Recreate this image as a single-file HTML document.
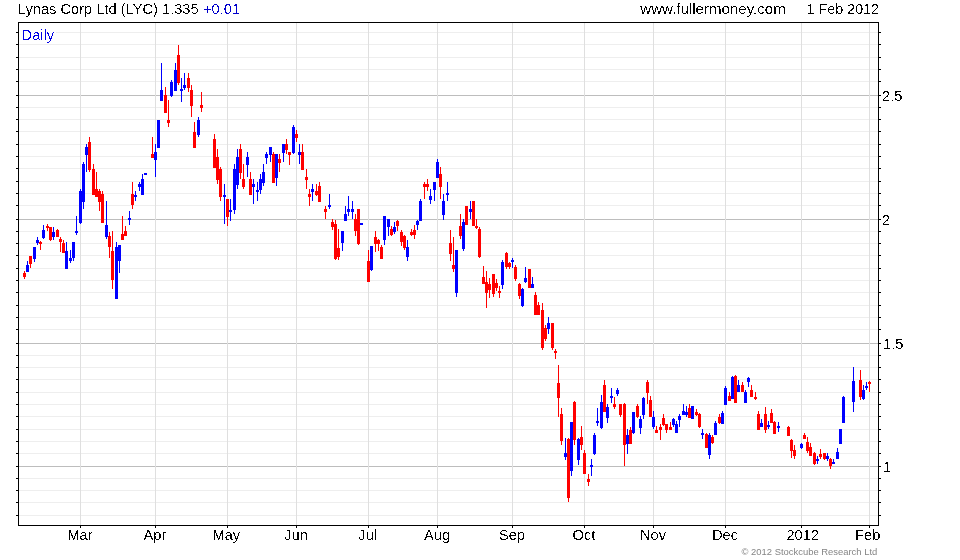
<!DOCTYPE html>
<html><head><meta charset="utf-8"><title>Lynas Corp Ltd (LYC)</title>
<style>
html,body{margin:0;padding:0;background:#fff;}
body{width:960px;height:560px;overflow:hidden;position:relative;font-family:"Liberation Sans",sans-serif;}
svg{position:absolute;left:0;top:0;display:block;}
text{font-family:"Liberation Sans",sans-serif;}
</style></head><body>
<svg width="960" height="560" viewBox="0 0 960 560">
<rect x="0" y="0" width="960" height="560" fill="#ffffff"/>
<defs><filter id="th" x="0" y="0" width="100%" height="100%" filterUnits="userSpaceOnUse" color-interpolation-filters="sRGB"><feComponentTransfer><feFuncA type="discrete" tableValues="0 0 0 0 0 0 0 0 0 0 0 1 1 1 1 1 1 1 1 1"/></feComponentTransfer></filter><filter id="idn" x="0" y="0" width="100%" height="100%" filterUnits="userSpaceOnUse"><feOffset dx="0" dy="0"/></filter></defs>
<g shape-rendering="crispEdges">
<rect x="19" y="32" width="859" height="1" fill="#eeeeee"/>
<rect x="16" y="32" width="2" height="1" fill="#000"/>
<rect x="879" y="32" width="2" height="1" fill="#000"/>
<rect x="19" y="44" width="859" height="1" fill="#eeeeee"/>
<rect x="16" y="44" width="2" height="1" fill="#000"/>
<rect x="879" y="44" width="2" height="1" fill="#000"/>
<rect x="19" y="57" width="859" height="1" fill="#eeeeee"/>
<rect x="16" y="57" width="2" height="1" fill="#000"/>
<rect x="879" y="57" width="2" height="1" fill="#000"/>
<rect x="19" y="69" width="859" height="1" fill="#eeeeee"/>
<rect x="16" y="69" width="2" height="1" fill="#000"/>
<rect x="879" y="69" width="2" height="1" fill="#000"/>
<rect x="19" y="81" width="859" height="1" fill="#eeeeee"/>
<rect x="16" y="81" width="2" height="1" fill="#000"/>
<rect x="879" y="81" width="2" height="1" fill="#000"/>
<rect x="19" y="95" width="859" height="1" fill="#bdbdbd"/>
<rect x="16" y="95" width="2" height="1" fill="#000"/>
<rect x="879" y="95" width="2" height="1" fill="#000"/>
<rect x="19" y="107" width="859" height="1" fill="#eeeeee"/>
<rect x="16" y="107" width="2" height="1" fill="#000"/>
<rect x="879" y="107" width="2" height="1" fill="#000"/>
<rect x="19" y="119" width="859" height="1" fill="#eeeeee"/>
<rect x="16" y="119" width="2" height="1" fill="#000"/>
<rect x="879" y="119" width="2" height="1" fill="#000"/>
<rect x="19" y="131" width="859" height="1" fill="#eeeeee"/>
<rect x="16" y="131" width="2" height="1" fill="#000"/>
<rect x="879" y="131" width="2" height="1" fill="#000"/>
<rect x="19" y="144" width="859" height="1" fill="#eeeeee"/>
<rect x="16" y="144" width="2" height="1" fill="#000"/>
<rect x="879" y="144" width="2" height="1" fill="#000"/>
<rect x="19" y="156" width="859" height="1" fill="#eeeeee"/>
<rect x="16" y="156" width="2" height="1" fill="#000"/>
<rect x="879" y="156" width="2" height="1" fill="#000"/>
<rect x="19" y="168" width="859" height="1" fill="#eeeeee"/>
<rect x="16" y="168" width="2" height="1" fill="#000"/>
<rect x="879" y="168" width="2" height="1" fill="#000"/>
<rect x="19" y="181" width="859" height="1" fill="#eeeeee"/>
<rect x="16" y="181" width="2" height="1" fill="#000"/>
<rect x="879" y="181" width="2" height="1" fill="#000"/>
<rect x="19" y="193" width="859" height="1" fill="#eeeeee"/>
<rect x="16" y="193" width="2" height="1" fill="#000"/>
<rect x="879" y="193" width="2" height="1" fill="#000"/>
<rect x="19" y="205" width="859" height="1" fill="#eeeeee"/>
<rect x="16" y="205" width="2" height="1" fill="#000"/>
<rect x="879" y="205" width="2" height="1" fill="#000"/>
<rect x="19" y="219" width="859" height="1" fill="#bdbdbd"/>
<rect x="16" y="219" width="2" height="1" fill="#000"/>
<rect x="879" y="219" width="2" height="1" fill="#000"/>
<rect x="19" y="231" width="859" height="1" fill="#eeeeee"/>
<rect x="16" y="231" width="2" height="1" fill="#000"/>
<rect x="879" y="231" width="2" height="1" fill="#000"/>
<rect x="19" y="243" width="859" height="1" fill="#eeeeee"/>
<rect x="16" y="243" width="2" height="1" fill="#000"/>
<rect x="879" y="243" width="2" height="1" fill="#000"/>
<rect x="19" y="255" width="859" height="1" fill="#eeeeee"/>
<rect x="16" y="255" width="2" height="1" fill="#000"/>
<rect x="879" y="255" width="2" height="1" fill="#000"/>
<rect x="19" y="268" width="859" height="1" fill="#eeeeee"/>
<rect x="16" y="268" width="2" height="1" fill="#000"/>
<rect x="879" y="268" width="2" height="1" fill="#000"/>
<rect x="19" y="280" width="859" height="1" fill="#eeeeee"/>
<rect x="16" y="280" width="2" height="1" fill="#000"/>
<rect x="879" y="280" width="2" height="1" fill="#000"/>
<rect x="19" y="292" width="859" height="1" fill="#eeeeee"/>
<rect x="16" y="292" width="2" height="1" fill="#000"/>
<rect x="879" y="292" width="2" height="1" fill="#000"/>
<rect x="19" y="305" width="859" height="1" fill="#eeeeee"/>
<rect x="16" y="305" width="2" height="1" fill="#000"/>
<rect x="879" y="305" width="2" height="1" fill="#000"/>
<rect x="19" y="317" width="859" height="1" fill="#eeeeee"/>
<rect x="16" y="317" width="2" height="1" fill="#000"/>
<rect x="879" y="317" width="2" height="1" fill="#000"/>
<rect x="19" y="329" width="859" height="1" fill="#eeeeee"/>
<rect x="16" y="329" width="2" height="1" fill="#000"/>
<rect x="879" y="329" width="2" height="1" fill="#000"/>
<rect x="19" y="343" width="859" height="1" fill="#bdbdbd"/>
<rect x="16" y="343" width="2" height="1" fill="#000"/>
<rect x="879" y="343" width="2" height="1" fill="#000"/>
<rect x="19" y="355" width="859" height="1" fill="#eeeeee"/>
<rect x="16" y="355" width="2" height="1" fill="#000"/>
<rect x="879" y="355" width="2" height="1" fill="#000"/>
<rect x="19" y="367" width="859" height="1" fill="#eeeeee"/>
<rect x="16" y="367" width="2" height="1" fill="#000"/>
<rect x="879" y="367" width="2" height="1" fill="#000"/>
<rect x="19" y="379" width="859" height="1" fill="#eeeeee"/>
<rect x="16" y="379" width="2" height="1" fill="#000"/>
<rect x="879" y="379" width="2" height="1" fill="#000"/>
<rect x="19" y="392" width="859" height="1" fill="#eeeeee"/>
<rect x="16" y="392" width="2" height="1" fill="#000"/>
<rect x="879" y="392" width="2" height="1" fill="#000"/>
<rect x="19" y="404" width="859" height="1" fill="#eeeeee"/>
<rect x="16" y="404" width="2" height="1" fill="#000"/>
<rect x="879" y="404" width="2" height="1" fill="#000"/>
<rect x="19" y="416" width="859" height="1" fill="#eeeeee"/>
<rect x="16" y="416" width="2" height="1" fill="#000"/>
<rect x="879" y="416" width="2" height="1" fill="#000"/>
<rect x="19" y="429" width="859" height="1" fill="#eeeeee"/>
<rect x="16" y="429" width="2" height="1" fill="#000"/>
<rect x="879" y="429" width="2" height="1" fill="#000"/>
<rect x="19" y="441" width="859" height="1" fill="#eeeeee"/>
<rect x="16" y="441" width="2" height="1" fill="#000"/>
<rect x="879" y="441" width="2" height="1" fill="#000"/>
<rect x="19" y="453" width="859" height="1" fill="#eeeeee"/>
<rect x="16" y="453" width="2" height="1" fill="#000"/>
<rect x="879" y="453" width="2" height="1" fill="#000"/>
<rect x="19" y="466" width="859" height="1" fill="#bdbdbd"/>
<rect x="16" y="466" width="2" height="1" fill="#000"/>
<rect x="879" y="466" width="2" height="1" fill="#000"/>
<rect x="19" y="478" width="859" height="1" fill="#eeeeee"/>
<rect x="16" y="478" width="2" height="1" fill="#000"/>
<rect x="879" y="478" width="2" height="1" fill="#000"/>
<rect x="19" y="490" width="859" height="1" fill="#eeeeee"/>
<rect x="16" y="490" width="2" height="1" fill="#000"/>
<rect x="879" y="490" width="2" height="1" fill="#000"/>
<rect x="19" y="502" width="859" height="1" fill="#eeeeee"/>
<rect x="16" y="502" width="2" height="1" fill="#000"/>
<rect x="879" y="502" width="2" height="1" fill="#000"/>
<rect x="19" y="515" width="859" height="1" fill="#eeeeee"/>
<rect x="16" y="515" width="2" height="1" fill="#000"/>
<rect x="879" y="515" width="2" height="1" fill="#000"/>
<rect x="80" y="23" width="1" height="502" fill="#dfdfdf"/>
<rect x="80" y="526" width="1" height="2" fill="#000"/>
<rect x="155" y="23" width="1" height="502" fill="#dfdfdf"/>
<rect x="155" y="526" width="1" height="2" fill="#000"/>
<rect x="227" y="23" width="1" height="502" fill="#dfdfdf"/>
<rect x="227" y="526" width="1" height="2" fill="#000"/>
<rect x="296" y="23" width="1" height="502" fill="#dfdfdf"/>
<rect x="296" y="526" width="1" height="2" fill="#000"/>
<rect x="368" y="23" width="1" height="502" fill="#dfdfdf"/>
<rect x="368" y="526" width="1" height="2" fill="#000"/>
<rect x="437" y="23" width="1" height="502" fill="#dfdfdf"/>
<rect x="437" y="526" width="1" height="2" fill="#000"/>
<rect x="512" y="23" width="1" height="502" fill="#dfdfdf"/>
<rect x="512" y="526" width="1" height="2" fill="#000"/>
<rect x="584" y="23" width="1" height="502" fill="#dfdfdf"/>
<rect x="584" y="526" width="1" height="2" fill="#000"/>
<rect x="653" y="23" width="1" height="502" fill="#dfdfdf"/>
<rect x="653" y="526" width="1" height="2" fill="#000"/>
<rect x="725" y="23" width="1" height="502" fill="#dfdfdf"/>
<rect x="725" y="526" width="1" height="2" fill="#000"/>
<rect x="801" y="23" width="1" height="502" fill="#dfdfdf"/>
<rect x="801" y="526" width="1" height="2" fill="#000"/>
<rect x="869" y="23" width="1" height="502" fill="#dfdfdf"/>
<rect x="869" y="526" width="1" height="2" fill="#000"/>
</g>
<g shape-rendering="crispEdges">
<rect x="24" y="271" width="1" height="8" fill="#ff0000"/>
<rect x="23" y="273" width="3" height="4" fill="#ff0000"/>
<rect x="27" y="261" width="1" height="11" fill="#0000ff"/>
<rect x="26" y="265" width="3" height="7" fill="#0000ff"/>
<rect x="30" y="256" width="1" height="12" fill="#ff0000"/>
<rect x="29" y="256" width="3" height="8" fill="#ff0000"/>
<rect x="34" y="247" width="1" height="15" fill="#0000ff"/>
<rect x="33" y="247" width="3" height="12" fill="#0000ff"/>
<rect x="37" y="237" width="1" height="8" fill="#0000ff"/>
<rect x="36" y="240" width="3" height="3" fill="#0000ff"/>
<rect x="40" y="241" width="1" height="9" fill="#ff0000"/>
<rect x="39" y="242" width="3" height="2" fill="#ff0000"/>
<rect x="43" y="225" width="1" height="14" fill="#0000ff"/>
<rect x="42" y="230" width="3" height="8" fill="#0000ff"/>
<rect x="47" y="224" width="1" height="7" fill="#ff0000"/>
<rect x="46" y="226" width="3" height="2" fill="#ff0000"/>
<rect x="50" y="227" width="1" height="14" fill="#ff0000"/>
<rect x="49" y="227" width="3" height="13" fill="#ff0000"/>
<rect x="53" y="227" width="1" height="13" fill="#0000ff"/>
<rect x="52" y="232" width="3" height="5" fill="#0000ff"/>
<rect x="57" y="229" width="1" height="8" fill="#ff0000"/>
<rect x="56" y="230" width="3" height="7" fill="#ff0000"/>
<rect x="60" y="237" width="1" height="15" fill="#ff0000"/>
<rect x="59" y="239" width="3" height="3" fill="#ff0000"/>
<rect x="63" y="240" width="1" height="13" fill="#ff0000"/>
<rect x="62" y="243" width="3" height="10" fill="#ff0000"/>
<rect x="66" y="242" width="1" height="27" fill="#0000ff"/>
<rect x="65" y="251" width="3" height="18" fill="#0000ff"/>
<rect x="70" y="250" width="1" height="13" fill="#0000ff"/>
<rect x="69" y="258" width="3" height="3" fill="#0000ff"/>
<rect x="73" y="242" width="1" height="19" fill="#0000ff"/>
<rect x="72" y="242" width="3" height="16" fill="#0000ff"/>
<rect x="76" y="216" width="1" height="19" fill="#0000ff"/>
<rect x="75" y="231" width="3" height="2" fill="#0000ff"/>
<rect x="80" y="189" width="1" height="35" fill="#0000ff"/>
<rect x="79" y="191" width="3" height="32" fill="#0000ff"/>
<rect x="83" y="162" width="1" height="47" fill="#0000ff"/>
<rect x="82" y="164" width="3" height="38" fill="#0000ff"/>
<rect x="86" y="144" width="1" height="28" fill="#0000ff"/>
<rect x="85" y="147" width="3" height="8" fill="#0000ff"/>
<rect x="89" y="137" width="1" height="35" fill="#ff0000"/>
<rect x="88" y="142" width="3" height="28" fill="#ff0000"/>
<rect x="93" y="164" width="1" height="31" fill="#ff0000"/>
<rect x="92" y="169" width="3" height="26" fill="#ff0000"/>
<rect x="96" y="172" width="1" height="25" fill="#ff0000"/>
<rect x="95" y="189" width="3" height="8" fill="#ff0000"/>
<rect x="99" y="189" width="1" height="22" fill="#ff0000"/>
<rect x="98" y="191" width="3" height="11" fill="#ff0000"/>
<rect x="102" y="191" width="1" height="32" fill="#ff0000"/>
<rect x="101" y="194" width="3" height="29" fill="#ff0000"/>
<rect x="106" y="201" width="1" height="38" fill="#0000ff"/>
<rect x="105" y="225" width="3" height="12" fill="#0000ff"/>
<rect x="109" y="232" width="1" height="26" fill="#ff0000"/>
<rect x="108" y="236" width="3" height="11" fill="#ff0000"/>
<rect x="112" y="231" width="1" height="58" fill="#ff0000"/>
<rect x="111" y="251" width="3" height="29" fill="#ff0000"/>
<rect x="116" y="242" width="1" height="57" fill="#0000ff"/>
<rect x="115" y="247" width="3" height="52" fill="#0000ff"/>
<rect x="119" y="245" width="1" height="28" fill="#0000ff"/>
<rect x="118" y="245" width="3" height="16" fill="#0000ff"/>
<rect x="122" y="216" width="1" height="24" fill="#ff0000"/>
<rect x="121" y="234" width="3" height="6" fill="#ff0000"/>
<rect x="125" y="226" width="1" height="10" fill="#ff0000"/>
<rect x="124" y="231" width="3" height="5" fill="#ff0000"/>
<rect x="129" y="211" width="1" height="14" fill="#0000ff"/>
<rect x="128" y="218" width="3" height="2" fill="#0000ff"/>
<rect x="132" y="182" width="1" height="27" fill="#ff0000"/>
<rect x="131" y="194" width="3" height="11" fill="#ff0000"/>
<rect x="135" y="191" width="1" height="10" fill="#0000ff"/>
<rect x="134" y="195" width="3" height="2" fill="#0000ff"/>
<rect x="139" y="182" width="1" height="9" fill="#0000ff"/>
<rect x="138" y="184" width="3" height="3" fill="#0000ff"/>
<rect x="142" y="174" width="1" height="21" fill="#0000ff"/>
<rect x="141" y="179" width="3" height="16" fill="#0000ff"/>
<rect x="144" y="173" width="3" height="2" fill="#0000ff"/>
<rect x="152" y="137" width="1" height="21" fill="#ff0000"/>
<rect x="151" y="154" width="3" height="4" fill="#ff0000"/>
<rect x="155" y="144" width="1" height="33" fill="#0000ff"/>
<rect x="154" y="152" width="3" height="8" fill="#0000ff"/>
<rect x="157" y="120" width="3" height="28" fill="#0000ff"/>
<rect x="161" y="63" width="1" height="38" fill="#0000ff"/>
<rect x="160" y="90" width="3" height="11" fill="#0000ff"/>
<rect x="165" y="87" width="1" height="26" fill="#ff0000"/>
<rect x="164" y="95" width="3" height="18" fill="#ff0000"/>
<rect x="168" y="100" width="1" height="27" fill="#ff0000"/>
<rect x="167" y="120" width="3" height="3" fill="#ff0000"/>
<rect x="171" y="80" width="1" height="17" fill="#0000ff"/>
<rect x="170" y="82" width="3" height="14" fill="#0000ff"/>
<rect x="175" y="63" width="1" height="28" fill="#0000ff"/>
<rect x="174" y="70" width="3" height="21" fill="#0000ff"/>
<rect x="178" y="45" width="1" height="40" fill="#ff0000"/>
<rect x="177" y="55" width="3" height="28" fill="#ff0000"/>
<rect x="181" y="78" width="1" height="24" fill="#0000ff"/>
<rect x="180" y="89" width="3" height="2" fill="#0000ff"/>
<rect x="184" y="73" width="1" height="17" fill="#0000ff"/>
<rect x="183" y="85" width="3" height="3" fill="#0000ff"/>
<rect x="188" y="73" width="1" height="19" fill="#ff0000"/>
<rect x="187" y="78" width="3" height="10" fill="#ff0000"/>
<rect x="191" y="85" width="1" height="32" fill="#ff0000"/>
<rect x="190" y="90" width="3" height="16" fill="#ff0000"/>
<rect x="194" y="122" width="1" height="26" fill="#ff0000"/>
<rect x="193" y="132" width="3" height="16" fill="#ff0000"/>
<rect x="198" y="117" width="1" height="20" fill="#0000ff"/>
<rect x="197" y="120" width="3" height="15" fill="#0000ff"/>
<rect x="201" y="92" width="1" height="20" fill="#ff0000"/>
<rect x="200" y="105" width="3" height="3" fill="#ff0000"/>
<rect x="214" y="134" width="1" height="34" fill="#ff0000"/>
<rect x="213" y="139" width="3" height="29" fill="#ff0000"/>
<rect x="217" y="149" width="1" height="35" fill="#ff0000"/>
<rect x="216" y="157" width="3" height="23" fill="#ff0000"/>
<rect x="220" y="167" width="1" height="34" fill="#ff0000"/>
<rect x="219" y="169" width="3" height="28" fill="#ff0000"/>
<rect x="224" y="184" width="1" height="40" fill="#0000ff"/>
<rect x="223" y="195" width="3" height="2" fill="#0000ff"/>
<rect x="227" y="199" width="1" height="27" fill="#ff0000"/>
<rect x="226" y="199" width="3" height="18" fill="#ff0000"/>
<rect x="230" y="199" width="1" height="22" fill="#0000ff"/>
<rect x="229" y="210" width="3" height="2" fill="#0000ff"/>
<rect x="234" y="164" width="1" height="50" fill="#0000ff"/>
<rect x="233" y="169" width="3" height="41" fill="#0000ff"/>
<rect x="237" y="149" width="1" height="40" fill="#0000ff"/>
<rect x="236" y="157" width="3" height="28" fill="#0000ff"/>
<rect x="240" y="144" width="1" height="35" fill="#ff0000"/>
<rect x="239" y="149" width="3" height="24" fill="#ff0000"/>
<rect x="243" y="164" width="1" height="25" fill="#ff0000"/>
<rect x="242" y="179" width="3" height="8" fill="#ff0000"/>
<rect x="247" y="152" width="1" height="25" fill="#0000ff"/>
<rect x="246" y="157" width="3" height="8" fill="#0000ff"/>
<rect x="250" y="172" width="1" height="23" fill="#ff0000"/>
<rect x="249" y="179" width="3" height="16" fill="#ff0000"/>
<rect x="253" y="179" width="1" height="25" fill="#0000ff"/>
<rect x="252" y="184" width="3" height="3" fill="#0000ff"/>
<rect x="257" y="182" width="1" height="19" fill="#0000ff"/>
<rect x="256" y="190" width="3" height="2" fill="#0000ff"/>
<rect x="260" y="174" width="1" height="20" fill="#0000ff"/>
<rect x="259" y="179" width="3" height="11" fill="#0000ff"/>
<rect x="263" y="164" width="1" height="22" fill="#0000ff"/>
<rect x="262" y="172" width="3" height="11" fill="#0000ff"/>
<rect x="266" y="152" width="1" height="12" fill="#0000ff"/>
<rect x="265" y="154" width="3" height="4" fill="#0000ff"/>
<rect x="270" y="147" width="1" height="15" fill="#0000ff"/>
<rect x="269" y="147" width="3" height="8" fill="#0000ff"/>
<rect x="273" y="152" width="1" height="31" fill="#ff0000"/>
<rect x="272" y="154" width="3" height="29" fill="#ff0000"/>
<rect x="276" y="154" width="1" height="32" fill="#0000ff"/>
<rect x="275" y="154" width="3" height="24" fill="#0000ff"/>
<rect x="279" y="154" width="1" height="18" fill="#ff0000"/>
<rect x="278" y="159" width="3" height="4" fill="#ff0000"/>
<rect x="283" y="144" width="1" height="18" fill="#0000ff"/>
<rect x="282" y="144" width="3" height="9" fill="#0000ff"/>
<rect x="286" y="139" width="1" height="15" fill="#ff0000"/>
<rect x="285" y="144" width="3" height="6" fill="#ff0000"/>
<rect x="289" y="152" width="1" height="13" fill="#ff0000"/>
<rect x="288" y="152" width="3" height="3" fill="#ff0000"/>
<rect x="293" y="125" width="1" height="29" fill="#0000ff"/>
<rect x="292" y="127" width="3" height="26" fill="#0000ff"/>
<rect x="296" y="130" width="1" height="12" fill="#ff0000"/>
<rect x="295" y="134" width="3" height="4" fill="#ff0000"/>
<rect x="299" y="144" width="1" height="20" fill="#0000ff"/>
<rect x="298" y="152" width="3" height="3" fill="#0000ff"/>
<rect x="302" y="144" width="1" height="26" fill="#ff0000"/>
<rect x="301" y="152" width="3" height="18" fill="#ff0000"/>
<rect x="306" y="169" width="1" height="20" fill="#ff0000"/>
<rect x="305" y="177" width="3" height="3" fill="#ff0000"/>
<rect x="309" y="189" width="1" height="17" fill="#ff0000"/>
<rect x="308" y="194" width="3" height="3" fill="#ff0000"/>
<rect x="312" y="184" width="1" height="17" fill="#0000ff"/>
<rect x="311" y="189" width="3" height="3" fill="#0000ff"/>
<rect x="316" y="184" width="1" height="12" fill="#ff0000"/>
<rect x="315" y="191" width="3" height="4" fill="#ff0000"/>
<rect x="319" y="182" width="1" height="20" fill="#ff0000"/>
<rect x="318" y="186" width="3" height="16" fill="#ff0000"/>
<rect x="325" y="206" width="1" height="13" fill="#ff0000"/>
<rect x="324" y="209" width="3" height="3" fill="#ff0000"/>
<rect x="329" y="194" width="1" height="15" fill="#0000ff"/>
<rect x="328" y="205" width="3" height="2" fill="#0000ff"/>
<rect x="332" y="219" width="1" height="11" fill="#ff0000"/>
<rect x="331" y="222" width="3" height="5" fill="#ff0000"/>
<rect x="335" y="220" width="1" height="40" fill="#ff0000"/>
<rect x="334" y="224" width="3" height="35" fill="#ff0000"/>
<rect x="338" y="229" width="1" height="31" fill="#ff0000"/>
<rect x="337" y="248" width="3" height="9" fill="#ff0000"/>
<rect x="342" y="231" width="1" height="20" fill="#0000ff"/>
<rect x="341" y="231" width="3" height="12" fill="#0000ff"/>
<rect x="345" y="206" width="1" height="15" fill="#0000ff"/>
<rect x="344" y="214" width="3" height="7" fill="#0000ff"/>
<rect x="348" y="196" width="1" height="20" fill="#0000ff"/>
<rect x="347" y="209" width="3" height="3" fill="#0000ff"/>
<rect x="352" y="201" width="1" height="18" fill="#0000ff"/>
<rect x="351" y="209" width="3" height="3" fill="#0000ff"/>
<rect x="355" y="214" width="1" height="22" fill="#ff0000"/>
<rect x="354" y="219" width="3" height="12" fill="#ff0000"/>
<rect x="358" y="209" width="1" height="36" fill="#ff0000"/>
<rect x="357" y="209" width="3" height="35" fill="#ff0000"/>
<rect x="360" y="223" width="3" height="2" fill="#0000ff"/>
<rect x="368" y="250" width="1" height="32" fill="#ff0000"/>
<rect x="367" y="261" width="3" height="21" fill="#ff0000"/>
<rect x="371" y="246" width="1" height="25" fill="#0000ff"/>
<rect x="370" y="246" width="3" height="24" fill="#0000ff"/>
<rect x="375" y="231" width="1" height="21" fill="#ff0000"/>
<rect x="374" y="237" width="3" height="7" fill="#ff0000"/>
<rect x="378" y="239" width="1" height="12" fill="#ff0000"/>
<rect x="377" y="240" width="3" height="4" fill="#ff0000"/>
<rect x="381" y="245" width="1" height="14" fill="#ff0000"/>
<rect x="380" y="247" width="3" height="12" fill="#ff0000"/>
<rect x="384" y="216" width="1" height="29" fill="#0000ff"/>
<rect x="383" y="216" width="3" height="24" fill="#0000ff"/>
<rect x="388" y="219" width="1" height="17" fill="#0000ff"/>
<rect x="387" y="219" width="3" height="8" fill="#0000ff"/>
<rect x="391" y="226" width="1" height="10" fill="#ff0000"/>
<rect x="390" y="229" width="3" height="6" fill="#ff0000"/>
<rect x="394" y="222" width="1" height="12" fill="#0000ff"/>
<rect x="393" y="227" width="3" height="5" fill="#0000ff"/>
<rect x="397" y="220" width="1" height="11" fill="#ff0000"/>
<rect x="396" y="221" width="3" height="5" fill="#ff0000"/>
<rect x="401" y="230" width="1" height="16" fill="#ff0000"/>
<rect x="400" y="232" width="3" height="10" fill="#ff0000"/>
<rect x="404" y="235" width="1" height="15" fill="#ff0000"/>
<rect x="403" y="236" width="3" height="12" fill="#ff0000"/>
<rect x="407" y="240" width="1" height="21" fill="#0000ff"/>
<rect x="406" y="247" width="3" height="10" fill="#0000ff"/>
<rect x="411" y="229" width="1" height="7" fill="#ff0000"/>
<rect x="410" y="232" width="3" height="3" fill="#ff0000"/>
<rect x="414" y="225" width="1" height="14" fill="#ff0000"/>
<rect x="413" y="230" width="3" height="5" fill="#ff0000"/>
<rect x="417" y="220" width="1" height="10" fill="#0000ff"/>
<rect x="416" y="221" width="3" height="4" fill="#0000ff"/>
<rect x="420" y="199" width="1" height="22" fill="#0000ff"/>
<rect x="419" y="201" width="3" height="20" fill="#0000ff"/>
<rect x="424" y="182" width="1" height="17" fill="#ff0000"/>
<rect x="423" y="184" width="3" height="3" fill="#ff0000"/>
<rect x="427" y="179" width="1" height="12" fill="#ff0000"/>
<rect x="426" y="184" width="3" height="3" fill="#ff0000"/>
<rect x="430" y="189" width="1" height="15" fill="#0000ff"/>
<rect x="429" y="196" width="3" height="4" fill="#0000ff"/>
<rect x="434" y="182" width="1" height="19" fill="#0000ff"/>
<rect x="433" y="182" width="3" height="8" fill="#0000ff"/>
<rect x="437" y="159" width="1" height="19" fill="#0000ff"/>
<rect x="436" y="162" width="3" height="16" fill="#0000ff"/>
<rect x="440" y="167" width="1" height="32" fill="#ff0000"/>
<rect x="439" y="174" width="3" height="13" fill="#ff0000"/>
<rect x="443" y="194" width="1" height="26" fill="#0000ff"/>
<rect x="442" y="201" width="3" height="14" fill="#0000ff"/>
<rect x="447" y="182" width="1" height="19" fill="#0000ff"/>
<rect x="446" y="193" width="3" height="2" fill="#0000ff"/>
<rect x="450" y="230" width="1" height="31" fill="#ff0000"/>
<rect x="449" y="243" width="3" height="11" fill="#ff0000"/>
<rect x="453" y="237" width="1" height="35" fill="#ff0000"/>
<rect x="452" y="265" width="3" height="4" fill="#ff0000"/>
<rect x="456" y="250" width="1" height="47" fill="#0000ff"/>
<rect x="455" y="250" width="3" height="43" fill="#0000ff"/>
<rect x="460" y="214" width="1" height="25" fill="#ff0000"/>
<rect x="459" y="226" width="3" height="10" fill="#ff0000"/>
<rect x="463" y="219" width="1" height="32" fill="#0000ff"/>
<rect x="462" y="222" width="3" height="27" fill="#0000ff"/>
<rect x="465" y="206" width="3" height="19" fill="#ff0000"/>
<rect x="470" y="201" width="1" height="18" fill="#0000ff"/>
<rect x="469" y="209" width="3" height="3" fill="#0000ff"/>
<rect x="472" y="201" width="3" height="25" fill="#ff0000"/>
<rect x="476" y="219" width="1" height="10" fill="#ff0000"/>
<rect x="475" y="226" width="3" height="2" fill="#ff0000"/>
<rect x="479" y="227" width="1" height="31" fill="#ff0000"/>
<rect x="478" y="229" width="3" height="28" fill="#ff0000"/>
<rect x="483" y="266" width="1" height="18" fill="#ff0000"/>
<rect x="482" y="277" width="3" height="7" fill="#ff0000"/>
<rect x="486" y="271" width="1" height="37" fill="#ff0000"/>
<rect x="485" y="282" width="3" height="11" fill="#ff0000"/>
<rect x="489" y="278" width="1" height="20" fill="#ff0000"/>
<rect x="488" y="284" width="3" height="6" fill="#ff0000"/>
<rect x="493" y="274" width="1" height="23" fill="#ff0000"/>
<rect x="492" y="274" width="3" height="20" fill="#ff0000"/>
<rect x="496" y="279" width="1" height="12" fill="#ff0000"/>
<rect x="495" y="283" width="3" height="5" fill="#ff0000"/>
<rect x="499" y="286" width="1" height="12" fill="#ff0000"/>
<rect x="498" y="291" width="3" height="2" fill="#ff0000"/>
<rect x="502" y="260" width="1" height="29" fill="#0000ff"/>
<rect x="501" y="262" width="3" height="23" fill="#0000ff"/>
<rect x="506" y="252" width="1" height="17" fill="#ff0000"/>
<rect x="505" y="253" width="3" height="14" fill="#ff0000"/>
<rect x="509" y="262" width="1" height="7" fill="#ff0000"/>
<rect x="508" y="263" width="3" height="4" fill="#ff0000"/>
<rect x="512" y="258" width="1" height="10" fill="#0000ff"/>
<rect x="511" y="260" width="3" height="2" fill="#0000ff"/>
<rect x="515" y="265" width="1" height="16" fill="#ff0000"/>
<rect x="514" y="267" width="3" height="12" fill="#ff0000"/>
<rect x="519" y="283" width="1" height="16" fill="#ff0000"/>
<rect x="518" y="284" width="3" height="12" fill="#ff0000"/>
<rect x="522" y="288" width="1" height="19" fill="#0000ff"/>
<rect x="521" y="289" width="3" height="17" fill="#0000ff"/>
<rect x="525" y="267" width="1" height="16" fill="#0000ff"/>
<rect x="524" y="278" width="3" height="4" fill="#0000ff"/>
<rect x="528" y="269" width="3" height="19" fill="#ff0000"/>
<rect x="532" y="277" width="1" height="11" fill="#0000ff"/>
<rect x="531" y="284" width="3" height="4" fill="#0000ff"/>
<rect x="535" y="292" width="1" height="23" fill="#ff0000"/>
<rect x="534" y="295" width="3" height="20" fill="#ff0000"/>
<rect x="538" y="302" width="1" height="13" fill="#ff0000"/>
<rect x="537" y="305" width="3" height="10" fill="#ff0000"/>
<rect x="542" y="303" width="1" height="47" fill="#ff0000"/>
<rect x="541" y="310" width="3" height="38" fill="#ff0000"/>
<rect x="545" y="325" width="1" height="16" fill="#ff0000"/>
<rect x="544" y="328" width="3" height="11" fill="#ff0000"/>
<rect x="548" y="317" width="1" height="17" fill="#0000ff"/>
<rect x="547" y="323" width="3" height="6" fill="#0000ff"/>
<rect x="552" y="323" width="1" height="27" fill="#ff0000"/>
<rect x="551" y="323" width="3" height="25" fill="#ff0000"/>
<rect x="555" y="349" width="1" height="10" fill="#ff0000"/>
<rect x="554" y="351" width="3" height="2" fill="#ff0000"/>
<rect x="558" y="365" width="1" height="52" fill="#ff0000"/>
<rect x="557" y="383" width="3" height="15" fill="#ff0000"/>
<rect x="561" y="408" width="1" height="37" fill="#ff0000"/>
<rect x="560" y="414" width="3" height="27" fill="#ff0000"/>
<rect x="565" y="438" width="1" height="22" fill="#0000ff"/>
<rect x="564" y="453" width="3" height="4" fill="#0000ff"/>
<rect x="568" y="438" width="1" height="64" fill="#ff0000"/>
<rect x="567" y="439" width="3" height="59" fill="#ff0000"/>
<rect x="571" y="422" width="1" height="54" fill="#0000ff"/>
<rect x="570" y="422" width="3" height="49" fill="#0000ff"/>
<rect x="574" y="401" width="1" height="44" fill="#ff0000"/>
<rect x="573" y="402" width="3" height="38" fill="#ff0000"/>
<rect x="578" y="438" width="1" height="27" fill="#0000ff"/>
<rect x="577" y="439" width="3" height="21" fill="#0000ff"/>
<rect x="581" y="426" width="1" height="24" fill="#ff0000"/>
<rect x="580" y="437" width="3" height="8" fill="#ff0000"/>
<rect x="584" y="450" width="1" height="24" fill="#ff0000"/>
<rect x="583" y="453" width="3" height="21" fill="#ff0000"/>
<rect x="588" y="474" width="1" height="12" fill="#ff0000"/>
<rect x="587" y="479" width="3" height="3" fill="#ff0000"/>
<rect x="591" y="459" width="1" height="17" fill="#0000ff"/>
<rect x="590" y="465" width="3" height="2" fill="#0000ff"/>
<rect x="594" y="433" width="1" height="22" fill="#0000ff"/>
<rect x="593" y="435" width="3" height="19" fill="#0000ff"/>
<rect x="597" y="408" width="1" height="18" fill="#0000ff"/>
<rect x="596" y="421" width="3" height="2" fill="#0000ff"/>
<rect x="601" y="395" width="1" height="34" fill="#0000ff"/>
<rect x="600" y="402" width="3" height="26" fill="#0000ff"/>
<rect x="604" y="380" width="1" height="32" fill="#ff0000"/>
<rect x="603" y="385" width="3" height="27" fill="#ff0000"/>
<rect x="607" y="404" width="1" height="19" fill="#0000ff"/>
<rect x="606" y="407" width="3" height="11" fill="#0000ff"/>
<rect x="611" y="388" width="1" height="15" fill="#0000ff"/>
<rect x="610" y="396" width="3" height="2" fill="#0000ff"/>
<rect x="614" y="397" width="1" height="12" fill="#ff0000"/>
<rect x="613" y="404" width="3" height="3" fill="#ff0000"/>
<rect x="617" y="388" width="1" height="8" fill="#0000ff"/>
<rect x="616" y="390" width="3" height="4" fill="#0000ff"/>
<rect x="620" y="404" width="1" height="13" fill="#ff0000"/>
<rect x="619" y="404" width="3" height="11" fill="#ff0000"/>
<rect x="624" y="403" width="1" height="63" fill="#ff0000"/>
<rect x="623" y="404" width="3" height="41" fill="#ff0000"/>
<rect x="627" y="429" width="1" height="25" fill="#0000ff"/>
<rect x="626" y="435" width="3" height="9" fill="#0000ff"/>
<rect x="630" y="427" width="1" height="17" fill="#ff0000"/>
<rect x="629" y="430" width="3" height="14" fill="#ff0000"/>
<rect x="633" y="412" width="1" height="22" fill="#0000ff"/>
<rect x="632" y="412" width="3" height="21" fill="#0000ff"/>
<rect x="637" y="404" width="1" height="14" fill="#ff0000"/>
<rect x="636" y="406" width="3" height="11" fill="#ff0000"/>
<rect x="640" y="416" width="1" height="18" fill="#0000ff"/>
<rect x="639" y="419" width="3" height="9" fill="#0000ff"/>
<rect x="643" y="397" width="1" height="22" fill="#0000ff"/>
<rect x="642" y="398" width="3" height="17" fill="#0000ff"/>
<rect x="647" y="380" width="1" height="24" fill="#ff0000"/>
<rect x="646" y="382" width="3" height="11" fill="#ff0000"/>
<rect x="650" y="396" width="1" height="21" fill="#ff0000"/>
<rect x="649" y="400" width="3" height="17" fill="#ff0000"/>
<rect x="653" y="411" width="1" height="18" fill="#0000ff"/>
<rect x="652" y="417" width="3" height="10" fill="#0000ff"/>
<rect x="656" y="426" width="1" height="7" fill="#ff0000"/>
<rect x="655" y="430" width="3" height="3" fill="#ff0000"/>
<rect x="660" y="424" width="1" height="16" fill="#ff0000"/>
<rect x="659" y="427" width="3" height="3" fill="#ff0000"/>
<rect x="663" y="414" width="1" height="12" fill="#ff0000"/>
<rect x="662" y="418" width="3" height="7" fill="#ff0000"/>
<rect x="666" y="424" width="1" height="9" fill="#ff0000"/>
<rect x="665" y="424" width="3" height="6" fill="#ff0000"/>
<rect x="670" y="422" width="1" height="8" fill="#ff0000"/>
<rect x="669" y="427" width="3" height="3" fill="#ff0000"/>
<rect x="673" y="418" width="1" height="9" fill="#0000ff"/>
<rect x="672" y="419" width="3" height="6" fill="#0000ff"/>
<rect x="676" y="421" width="1" height="12" fill="#0000ff"/>
<rect x="675" y="424" width="3" height="9" fill="#0000ff"/>
<rect x="679" y="414" width="1" height="13" fill="#0000ff"/>
<rect x="678" y="416" width="3" height="4" fill="#0000ff"/>
<rect x="683" y="404" width="1" height="11" fill="#0000ff"/>
<rect x="682" y="411" width="3" height="4" fill="#0000ff"/>
<rect x="686" y="406" width="1" height="11" fill="#0000ff"/>
<rect x="685" y="412" width="3" height="3" fill="#0000ff"/>
<rect x="689" y="404" width="1" height="14" fill="#ff0000"/>
<rect x="688" y="408" width="3" height="10" fill="#ff0000"/>
<rect x="691" y="406" width="3" height="13" fill="#0000ff"/>
<rect x="696" y="409" width="1" height="7" fill="#ff0000"/>
<rect x="695" y="412" width="3" height="3" fill="#ff0000"/>
<rect x="699" y="413" width="1" height="15" fill="#ff0000"/>
<rect x="698" y="414" width="3" height="13" fill="#ff0000"/>
<rect x="702" y="429" width="1" height="10" fill="#0000ff"/>
<rect x="701" y="433" width="3" height="2" fill="#0000ff"/>
<rect x="706" y="433" width="1" height="15" fill="#ff0000"/>
<rect x="705" y="434" width="3" height="14" fill="#ff0000"/>
<rect x="709" y="433" width="1" height="26" fill="#0000ff"/>
<rect x="708" y="435" width="3" height="20" fill="#0000ff"/>
<rect x="712" y="435" width="1" height="9" fill="#ff0000"/>
<rect x="711" y="437" width="3" height="6" fill="#ff0000"/>
<rect x="715" y="421" width="1" height="14" fill="#0000ff"/>
<rect x="714" y="423" width="3" height="12" fill="#0000ff"/>
<rect x="719" y="414" width="1" height="10" fill="#ff0000"/>
<rect x="718" y="417" width="3" height="6" fill="#ff0000"/>
<rect x="722" y="411" width="1" height="13" fill="#0000ff"/>
<rect x="721" y="413" width="3" height="11" fill="#0000ff"/>
<rect x="725" y="386" width="1" height="19" fill="#0000ff"/>
<rect x="724" y="388" width="3" height="17" fill="#0000ff"/>
<rect x="729" y="392" width="1" height="9" fill="#ff0000"/>
<rect x="728" y="396" width="3" height="5" fill="#ff0000"/>
<rect x="732" y="376" width="1" height="23" fill="#0000ff"/>
<rect x="731" y="377" width="3" height="22" fill="#0000ff"/>
<rect x="735" y="375" width="1" height="28" fill="#ff0000"/>
<rect x="734" y="376" width="3" height="27" fill="#ff0000"/>
<rect x="738" y="380" width="1" height="12" fill="#0000ff"/>
<rect x="737" y="385" width="3" height="7" fill="#0000ff"/>
<rect x="742" y="382" width="1" height="10" fill="#ff0000"/>
<rect x="741" y="385" width="3" height="7" fill="#ff0000"/>
<rect x="745" y="390" width="1" height="13" fill="#0000ff"/>
<rect x="744" y="392" width="3" height="11" fill="#0000ff"/>
<rect x="748" y="377" width="1" height="10" fill="#0000ff"/>
<rect x="747" y="378" width="3" height="4" fill="#0000ff"/>
<rect x="751" y="385" width="1" height="12" fill="#ff0000"/>
<rect x="750" y="390" width="3" height="7" fill="#ff0000"/>
<rect x="755" y="392" width="1" height="8" fill="#ff0000"/>
<rect x="754" y="397" width="3" height="2" fill="#ff0000"/>
<rect x="758" y="411" width="1" height="19" fill="#ff0000"/>
<rect x="757" y="414" width="3" height="16" fill="#ff0000"/>
<rect x="761" y="419" width="1" height="8" fill="#0000ff"/>
<rect x="760" y="423" width="3" height="4" fill="#0000ff"/>
<rect x="765" y="407" width="1" height="26" fill="#ff0000"/>
<rect x="764" y="414" width="3" height="16" fill="#ff0000"/>
<rect x="768" y="421" width="1" height="8" fill="#0000ff"/>
<rect x="767" y="425" width="3" height="2" fill="#0000ff"/>
<rect x="771" y="409" width="1" height="14" fill="#ff0000"/>
<rect x="770" y="413" width="3" height="10" fill="#ff0000"/>
<rect x="774" y="421" width="1" height="13" fill="#ff0000"/>
<rect x="773" y="422" width="3" height="12" fill="#ff0000"/>
<rect x="778" y="422" width="1" height="10" fill="#0000ff"/>
<rect x="777" y="426" width="3" height="2" fill="#0000ff"/>
<rect x="788" y="426" width="1" height="10" fill="#ff0000"/>
<rect x="787" y="427" width="3" height="9" fill="#ff0000"/>
<rect x="791" y="439" width="1" height="19" fill="#ff0000"/>
<rect x="790" y="440" width="3" height="11" fill="#ff0000"/>
<rect x="794" y="445" width="1" height="14" fill="#ff0000"/>
<rect x="793" y="450" width="3" height="6" fill="#ff0000"/>
<rect x="801" y="443" width="1" height="6" fill="#0000ff"/>
<rect x="800" y="444" width="3" height="4" fill="#0000ff"/>
<rect x="804" y="433" width="1" height="6" fill="#ff0000"/>
<rect x="803" y="435" width="3" height="4" fill="#ff0000"/>
<rect x="807" y="437" width="1" height="16" fill="#ff0000"/>
<rect x="806" y="442" width="3" height="9" fill="#ff0000"/>
<rect x="810" y="443" width="1" height="13" fill="#ff0000"/>
<rect x="809" y="447" width="3" height="9" fill="#ff0000"/>
<rect x="814" y="452" width="1" height="13" fill="#ff0000"/>
<rect x="813" y="453" width="3" height="11" fill="#ff0000"/>
<rect x="817" y="456" width="1" height="8" fill="#0000ff"/>
<rect x="816" y="459" width="3" height="2" fill="#0000ff"/>
<rect x="820" y="449" width="1" height="10" fill="#ff0000"/>
<rect x="819" y="454" width="3" height="3" fill="#ff0000"/>
<rect x="824" y="453" width="1" height="7" fill="#ff0000"/>
<rect x="823" y="453" width="3" height="6" fill="#ff0000"/>
<rect x="827" y="453" width="1" height="8" fill="#0000ff"/>
<rect x="826" y="456" width="3" height="3" fill="#0000ff"/>
<rect x="830" y="458" width="1" height="11" fill="#ff0000"/>
<rect x="829" y="459" width="3" height="7" fill="#ff0000"/>
<rect x="833" y="459" width="1" height="5" fill="#0000ff"/>
<rect x="832" y="462" width="3" height="2" fill="#0000ff"/>
<rect x="837" y="448" width="1" height="11" fill="#0000ff"/>
<rect x="836" y="452" width="3" height="7" fill="#0000ff"/>
<rect x="839" y="429" width="3" height="15" fill="#0000ff"/>
<rect x="843" y="396" width="1" height="27" fill="#0000ff"/>
<rect x="842" y="397" width="3" height="26" fill="#0000ff"/>
<rect x="853" y="367" width="1" height="45" fill="#0000ff"/>
<rect x="852" y="381" width="3" height="21" fill="#0000ff"/>
<rect x="860" y="370" width="1" height="30" fill="#ff0000"/>
<rect x="859" y="380" width="3" height="17" fill="#ff0000"/>
<rect x="863" y="385" width="1" height="15" fill="#0000ff"/>
<rect x="862" y="390" width="3" height="9" fill="#0000ff"/>
<rect x="866" y="382" width="1" height="8" fill="#0000ff"/>
<rect x="865" y="386" width="3" height="2" fill="#0000ff"/>
<rect x="869" y="381" width="1" height="11" fill="#ff0000"/>
<rect x="868" y="382" width="3" height="2" fill="#ff0000"/>
</g>
<g shape-rendering="crispEdges" fill="#000">
<rect x="18" y="22" width="861" height="1"/>
<rect x="18" y="525" width="861" height="1"/>
<rect x="18" y="22" width="1" height="504"/>
<rect x="878" y="22" width="1" height="504"/>
</g>
<rect x="19" y="23" width="37" height="20" fill="#fff" shape-rendering="crispEdges"/>
<g filter="url(#th)">
<g font-size="14.67px" fill="#000">
<text x="17.8" y="13.5">Lynas Corp Ltd (LYC) 1.335</text>
<text x="203.0" y="13.5" fill="#0000cc">+0.01</text>
<text x="640.3" y="13.5" textLength="145.5" lengthAdjust="spacingAndGlyphs">www.fullermoney.com</text>
<text x="806.5" y="13.5" textLength="72.6" lengthAdjust="spacingAndGlyphs">1 Feb 2012</text>
</g>
<text x="21.6" y="40" font-size="14.67px" fill="#0000e6">Daily</text>
<g font-size="14.67px" fill="#000">
<text x="882" y="101">2.5</text>
<text x="882" y="225">2</text>
<text x="883" y="349">1.5</text>
<text x="883" y="472">1</text>
</g>
<g font-size="14.67px" fill="#000" text-anchor="middle">
<text x="80.0" y="540">Mar</text>
<text x="155.0" y="540">Apr</text>
<text x="226.3" y="540">May</text>
<text x="296.0" y="540">Jun</text>
<text x="367.7" y="540">Jul</text>
<text x="437.0" y="540">Aug</text>
<text x="512.0" y="540">Sep</text>
<text x="584.0" y="540">Oct</text>
<text x="653.0" y="540">Nov</text>
<text x="725.0" y="540">Dec</text>
<text x="802.7" y="540">2012</text>
<text x="867.7" y="540">Feb</text>
</g>
</g>
<text filter="url(#idn)" x="741.5" y="555" font-size="9.33px" fill="#858585" textLength="135.8" lengthAdjust="spacingAndGlyphs">© 2012 Stockcube Research Ltd</text>
</svg></body></html>
